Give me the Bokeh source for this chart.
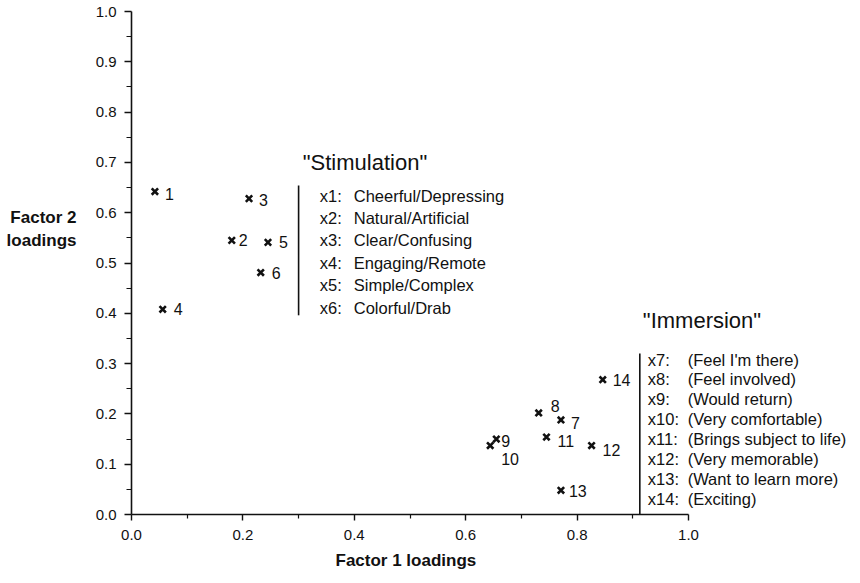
from bokeh.plotting import figure
from bokeh.models import FixedTicker, PrintfTickFormatter, Range1d, ColumnDataSource, LinearAxis, Title
from bokeh.core.properties import value
from bokeh.embed import file_html
from bokeh.resources import INLINE

# ---------------- data ----------------
item_ids = ["1", "2", "3", "4", "5", "6", "7", "8", "9", "10", "11", "12", "13", "14"]
factor1 = [0.042, 0.180, 0.211, 0.056, 0.245, 0.232, 0.771, 0.731, 0.655, 0.644, 0.745, 0.826, 0.771, 0.846]
factor2 = [0.642, 0.545, 0.628, 0.408, 0.541, 0.481, 0.188, 0.202, 0.150, 0.137, 0.154, 0.137, 0.048, 0.268]

stim_title = '"Stimulation"'
stim_ids = ["x1:", "x2:", "x3:", "x4:", "x5:", "x6:"]
stim_names = ["Cheerful/Depressing", "Natural/Artificial", "Clear/Confusing",
              "Engaging/Remote", "Simple/Complex", "Colorful/Drab"]
imm_title = '"Immersion"'
imm_ids = ["x7:", "x8:", "x9:", "x10:", "x11:", "x12:", "x13:", "x14:"]
imm_names = ["(Feel I'm there)", "(Feel involved)", "(Would return)", "(Very comfortable)",
             "(Brings subject to life)", "(Very memorable)", "(Want to learn more)", "(Exciting)"]

x_major = [0.0, 0.2, 0.4, 0.6, 0.8, 1.0]
x_minor = [0.1, 0.3, 0.5, 0.7, 0.9]
y_major = [0.0, 0.1, 0.2, 0.3, 0.4, 0.5, 0.6, 0.7, 0.8, 0.9, 1.0]
y_minor = [0.05, 0.15, 0.25, 0.35, 0.45, 0.55, 0.65, 0.75, 0.85, 0.95]

x_title = "Factor 1 loadings"
y_title = "Factor 2\nloadings"

# ---------------- layout / style ----------------
FONT = "Liberation Sans"
INK = "#111111"
# per-label offsets in screen pixels (dx right, dy down)
lab_dx = [10, 7, 10, 11, 11, 11, 10, 12, 5, 11, 11, 11, 8, 10]
lab_dy = [2, 0, 1, 0, 0, 0, 3, -7, 2, 13, 4, 4, 1, 0]

W, H = 852, 575
LB, RB, TB, BB = 131, 0, 11, 61
px_per_x = 557.0
x_end = (W - LB - RB) / px_per_x

p = figure(width=W, height=H, output_backend="svg", toolbar_location=None,
           x_range=Range1d(0, x_end), y_range=Range1d(0, 1.0),
           min_border_left=LB, min_border_right=RB, min_border_top=TB, min_border_bottom=BB)
p.outline_line_color = None
p.xgrid.visible = False
p.ygrid.visible = False
p.background_fill_color = "white"
p.border_fill_color = "white"

for ax, majors, minors in ((p.xaxis[0], x_major, x_minor), (p.yaxis[0], y_major, y_minor)):
    ax.ticker = FixedTicker(ticks=majors, minor_ticks=minors)
    ax.formatter = PrintfTickFormatter(format="%.1f")
    ax.bounds = (0, 1)
    ax.axis_line_color = INK
    ax.axis_line_width = 1.6
    ax.major_tick_line_color = INK
    ax.major_tick_line_width = 1.4
    ax.minor_tick_line_color = INK
    ax.minor_tick_line_width = 1.2
    ax.major_tick_in = 0
    ax.minor_tick_in = 0
    ax.major_label_text_font = FONT
    ax.major_label_text_font_size = "15px"
    ax.major_label_text_color = INK

xa = p.xaxis[0]
xa.major_tick_out = 6
xa.minor_tick_out = 4
xa.major_label_standoff = 9

ya = p.yaxis[0]
ya.major_tick_out = 7
ya.minor_tick_out = 5
ya.major_label_standoff = 8

# x title, left-aligned under the axis
p.add_layout(Title(text=x_title, align="left", vertical_align="bottom", offset=204, standoff=12,
                   text_font=FONT, text_font_size="17px", text_font_style="bold",
                   text_color=INK), "below")

# horizontal two-line y title, carried by a bare extra axis on the left
# (trailing blank lines lift the centred block to the reference height)
yl = LinearAxis(ticker=FixedTicker(ticks=[]))
yl.axis_line_color = None
yl.major_tick_line_color = None
yl.minor_tick_line_color = None
yl.major_label_text_font_size = "0px"
yl.axis_label = y_title + "\n\n\n"
yl.axis_label_orientation = "horizontal"
yl.axis_label_text_font = FONT
yl.axis_label_text_font_size = "17px"
yl.axis_label_text_font_style = "bold"
yl.axis_label_text_color = INK
yl.axis_label_text_align = "left"
yl.axis_label_standoff = 16
p.add_layout(yl, "left")

# points
src = ColumnDataSource(dict(x=factor1, y=factor2, t=item_ids, dx=lab_dx, dy=lab_dy))
p.scatter("x", "y", source=src, marker="x", size=9, line_width=2.6, line_color=INK)
p.text("x", "y", text="t", source=src, x_offset="dx", y_offset="dy",
       text_font=value(FONT), text_font_size="16px", text_color=INK,
       text_align="left", text_baseline="middle")

# group blocks (anchors in data units, line spacing in data units)
def block(title, ids, names, title_xy, bar_x, bar_y0, bar_y1, id_x, name_x, first_y, step):
    p.text(x=[title_xy[0]], y=[title_xy[1]], text=[title], text_font=value(FONT),
           text_font_size="22px", text_color=INK, text_align="left", text_baseline="middle")
    p.segment(x0=[bar_x], y0=[bar_y0], x1=[bar_x], y1=[bar_y1], line_color=INK, line_width=1.6)
    ys = [first_y - i * step for i in range(len(ids))]
    p.text(x=[id_x] * len(ids), y=ys, text=ids, text_font=value(FONT),
           text_font_size="16.5px", text_color=INK, text_align="left", text_baseline="middle")
    p.text(x=[name_x] * len(names), y=ys, text=names, text_font=value(FONT),
           text_font_size="16.5px", text_color=INK, text_align="left", text_baseline="middle")

block(stim_title, stim_ids, stim_names, (0.3075, 0.700), 0.300, 0.654, 0.396,
      0.338, 0.399, 0.634, 0.0445)
block(imm_title, imm_ids, imm_names, (0.918, 0.386), 0.9126, 0.320, 0.0,
      0.927, 0.9985, 0.308, 0.0396)

open("out.html", "w").write(file_html(p, INLINE))
